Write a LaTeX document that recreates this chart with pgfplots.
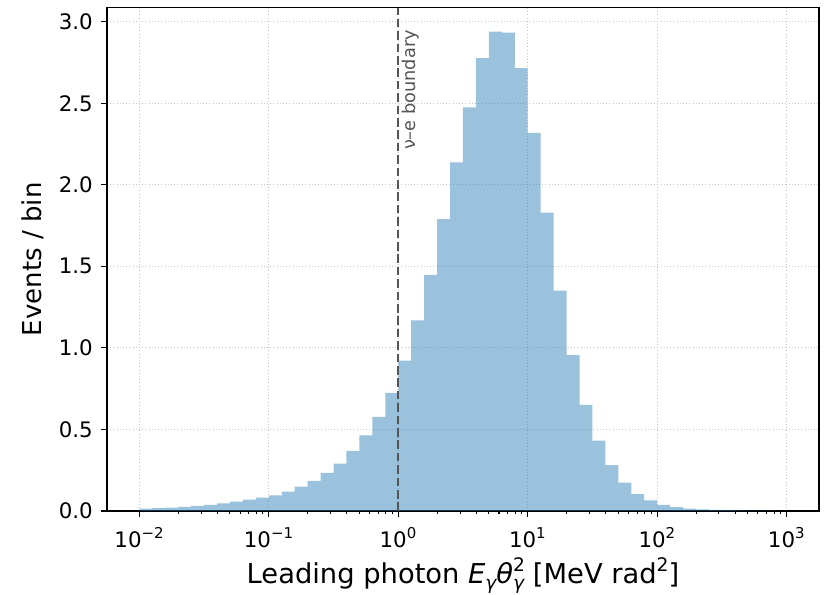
\documentclass[border=0pt]{standalone}
\usepackage{fontspec}
\setmainfont{DejaVu Sans}
\usepackage{pgfplots}
\pgfplotsset{compat=1.18}
\definecolor{czero}{RGB}{31,119,180}
\definecolor{bnd}{RGB}{85,85,85}
\newcommand{\supsub}[2]{\makebox[0pt][l]{\raisebox{0.78ex}{\fontsize{14}{14}\selectfont #1}}\raisebox{-0.4ex}{\fontsize{14}{14}\selectfont #2}}
\begin{document}
\begin{tikzpicture}
\useasboundingbox (-80.25pt,-63pt) rectangle (544.5pt,383.25pt);
\begin{axis}[
  scale only axis,
  width=534pt, height=377.6pt,
  xmode=log,
  xmin=5.6234e-3, xmax=1778.3,
  ymin=0, ymax=3.087,
  xtick={1e-2,1e-1,1e0,1e1,1e2,1e3},
  xticklabels={10\textsuperscript{−2},10\textsuperscript{−1},10\textsuperscript{0},10\textsuperscript{1},10\textsuperscript{2},10\textsuperscript{3}},
  ytick={0,0.5,1,1.5,2,2.5,3},
  yticklabel style={xshift=-2.5pt,/pgf/number format/.cd,fixed,fixed zerofill,precision=1,assume math mode=true},
  xticklabel style={yshift=-4.5pt},
  tick label style={font=\fontsize{16}{18}\selectfont},
  xlabel style={font=\fontsize{20.5}{23}\selectfont, yshift=-1pt},
  ylabel style={font=\fontsize{19.5}{22}\selectfont},
  ylabel shift=4pt,
  xlabel={Leading photon \textit{E}\raisebox{-0.4ex}{\fontsize{14}{14}\selectfont\itshape γ}\textit{θ}\supsub{2}{\itshape γ} [MeV rad\raisebox{0.78ex}{\fontsize{14}{14}\selectfont 2}]},
  ylabel={Events / bin},
  tick pos=left,
  tick align=outside,
  major tick length=4.6pt,
  minor tick length=2.6pt,
  every tick/.style={black, line width=0.8pt},
  axis line style={line width=1.05pt},
  grid=major,
  major grid style={dotted, line width=0.7pt, gray!45},
  clip=false,
]
\addplot[const plot mark left, draw=none, fill=czero, fill opacity=0.45] coordinates {
(0.0100000,0.014) (0.0125893,0.017) (0.0158489,0.020) (0.0199526,0.025) (0.0251189,0.031)
(0.0316228,0.038) (0.0398107,0.046) (0.0501187,0.057) (0.0630957,0.070) (0.0794328,0.082)
(0.100000,0.096) (0.125893,0.118) (0.158489,0.149) (0.199526,0.184) (0.251189,0.233)
(0.316228,0.290) (0.398107,0.368) (0.501187,0.464) (0.630957,0.577) (0.794328,0.724)
(1.00000,0.922) (1.25893,1.169) (1.58489,1.447) (1.99526,1.790) (2.51189,2.138)
(3.16228,2.475) (3.98107,2.777) (5.01187,2.939) (6.30957,2.933) (7.94328,2.716)
(10.0000,2.318) (12.5893,1.829) (15.8489,1.351) (19.9526,0.955) (25.1189,0.650)
(31.6228,0.432) (39.8107,0.282) (50.1187,0.174) (63.0957,0.104) (79.4328,0.065)
(100.000,0.037) (125.893,0.024) (158.489,0.015) (199.526,0.010) (251.189,0.007)
(316.228,0.005) (398.107,0.004) (501.187,0.003) (630.957,0.002) (794.328,0.001)
(1000.00,0.001)
} \closedcycle;
\addplot[bnd, dash pattern=on 6.5pt off 2.8pt, line width=1.6pt] coordinates {(1,0) (1,3.087)};
\node[rotate=90, anchor=north east, inner sep=0pt, text=bnd, font=\fontsize{13.3}{15}\selectfont] at (axis cs:1.06,2.95) {ν–e boundary};
\end{axis}
\end{tikzpicture}
\end{document}
